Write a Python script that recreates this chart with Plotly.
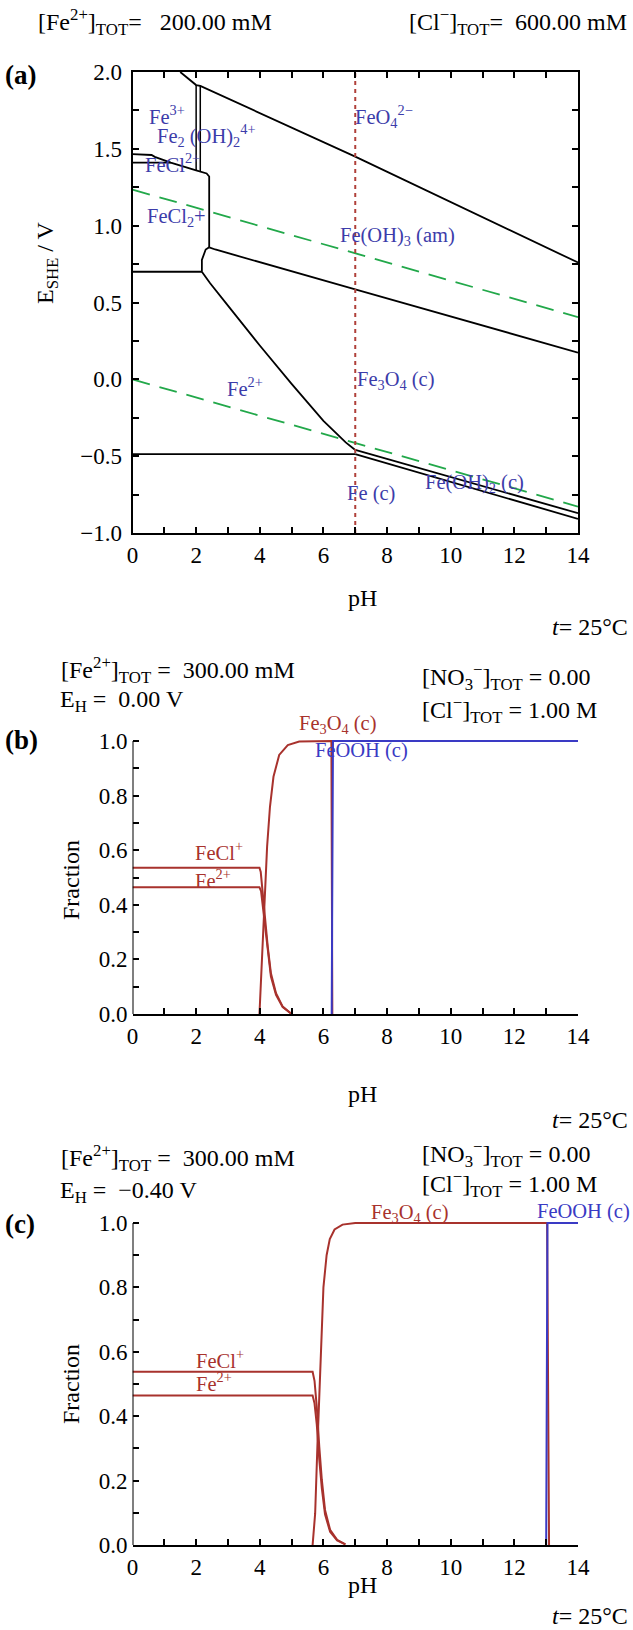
import plotly.graph_objects as go

W, H = 633, 1630

# ---------------- panel (a): Pourbaix diagram data (pH, E / V) ----------------
feo4_ph = [1.5, 2.0, 2.13, 7.0, 14.0]
feo4_e = [2.0, 1.915, 1.91, 1.449, 0.76]
v1_ph = [2.0, 2.0]
v1_e = [1.915, 1.36]
v2_ph = [2.13, 2.13]
v2_e = [1.91, 1.351]
a_ph = [0.0, 0.6, 0.7, 1.2, 2.0, 2.13, 2.33, 2.41, 2.41]
a_e = [1.466, 1.46, 1.448, 1.41, 1.36, 1.351, 1.34, 1.32, 0.859]
b_ph = [0.0, 1.2]
b_e = [1.41, 1.41]
feoh3_ph = [2.41, 2.6, 7.0, 14.0]
feoh3_e = [0.859, 0.845, 0.586, 0.174]
link_ph = [2.41, 2.3, 2.18, 2.18]
link_e = [0.859, 0.845, 0.777, 0.70]
fe23_ph = [0.0, 2.18]
fe23_e = [0.70, 0.70]
fe2m_ph = [2.18, 2.44, 3.0, 4.0, 5.0, 6.0, 6.7, 7.0]
fe2m_e = [0.70, 0.625, 0.48, 0.22, -0.03, -0.27, -0.41, -0.46]
fe0_ph = [0.0, 7.0]
fe0_e = [-0.487, -0.487]
mag_ph = [7.0, 14.0]
mag_e = [-0.459, -0.871]
feoh2_ph = [7.0, 14.0]
feoh2_e = [-0.487, -0.908]
o2_ph = [0.0, 14.0]
o2_e = [1.235, 0.405]
h2_ph = [0.0, 14.0]
h2_e = [0.0, -0.828]
ph7_ph = [7.0, 7.0]
ph7_e = [-1.0, 2.0]

# ---------------- panel (b): fractions, E_H = 0.00 V ----------------
b_fecl_ph = [0.0, 3.99, 4.03, 4.09, 4.15, 4.25, 4.35, 4.51, 4.72, 4.98]
b_fecl_f = [0.536, 0.536, 0.52, 0.442, 0.369, 0.247, 0.149, 0.076, 0.027, 0.002]
b_fe2_ph = [0.0, 3.99, 4.04, 4.09, 4.15, 4.25, 4.35, 4.51, 4.72, 4.98]
b_fe2_f = [0.464, 0.464, 0.45, 0.40, 0.335, 0.226, 0.137, 0.07, 0.025, 0.002]
b_mag_ph = [3.99, 4.06, 4.15, 4.23, 4.32, 4.43, 4.61, 4.88, 5.24, 6.25, 6.28]
b_mag_f = [0.0, 0.186, 0.43, 0.613, 0.759, 0.869, 0.949, 0.985, 0.998, 1.0, 0.0]
b_feooh_ph = [6.26, 6.30, 14.0]
b_feooh_f = [0.0, 1.0, 1.0]

# ---------------- panel (c): fractions, E_H = -0.40 V ----------------
c_fecl_ph = [0.0, 5.66, 5.72, 5.79, 5.87, 5.95, 6.05, 6.21, 6.43, 6.69]
c_fecl_f = [0.538, 0.538, 0.51, 0.43, 0.305, 0.202, 0.109, 0.047, 0.016, 0.002]
c_fe2_ph = [0.0, 5.66, 5.72, 5.79, 5.87, 5.95, 6.05, 6.21, 6.43, 6.69]
c_fe2_f = [0.464, 0.464, 0.44, 0.375, 0.265, 0.176, 0.095, 0.041, 0.014, 0.002]
c_mag_ph = [5.66, 5.74, 5.81, 5.90, 6.0, 6.1, 6.2, 6.35, 6.6, 7.0, 13.03, 13.09]
c_mag_f = [0.0, 0.098, 0.305, 0.564, 0.80, 0.90, 0.95, 0.98, 0.995, 1.0, 1.0, 0.0]
c_feooh_ph = [13.0, 13.04, 14.0]
c_feooh_f = [0.0, 1.0, 1.0]

# tick labels
ph_ticks = [0, 2, 4, 6, 8, 10, 12, 14]
frac_ticks = [0, 0.2, 0.4, 0.6, 0.8, 1.0]

FONT = "Liberation Serif"
BLACK = "black"
BLUE_T = "#3c3caa"
RED = "#a8322d"
BLUE = "#3a3ac4"
GREEN = "#22a84a"
DOTRED = "#b0403a"

# plot-area geometry in page pixels
XL, XR = 132.5, 578
PAN = {
    "a": dict(top=72, bot=533, lo=-1.0, hi=2.0),
    "b": dict(top=741, bot=1014, lo=0.0, hi=1.0),
    "c": dict(top=1223, bot=1545, lo=0.0, hi=1.0),
}


def px(x):
    return x / W


def py(y):
    return 1 - y / H


fig = go.Figure()


def line(xs, ys, ax, color=BLACK, width=1.8, dash="solid"):
    fig.add_trace(go.Scatter(x=xs, y=ys, mode="lines", xaxis=ax[0], yaxis=ax[1],
                             line=dict(color=color, width=width, dash=dash),
                             showlegend=False, hoverinfo="skip"))


A = ("x", "y")
B = ("x2", "y2")
C = ("x3", "y3")

# panel a
line(o2_ph, o2_e, A, GREEN, 1.8, "18px,10px")
line(h2_ph, h2_e, A, GREEN, 1.8, "18px,10px")
for xs, ys in [(feo4_ph, feo4_e), (a_ph, a_e), (b_ph, b_e),
               (feoh3_ph, feoh3_e), (link_ph, link_e), (fe23_ph, fe23_e), (fe2m_ph, fe2m_e),
               (fe0_ph, fe0_e), (mag_ph, mag_e), (feoh2_ph, feoh2_e)]:
    line(xs, ys, A)
line(v1_ph, v1_e, A, width=1.5)
line(v2_ph, v2_e, A, width=1.5)
line(ph7_ph, ph7_e, A, DOTRED, 2, "4px,4px")

# panel b
line(b_fecl_ph, b_fecl_f, B, RED, 2)
line(b_fe2_ph, b_fe2_f, B, RED, 2)
line(b_mag_ph, b_mag_f, B, RED, 2)
line(b_feooh_ph, b_feooh_f, B, BLUE, 2)

# panel c
line(c_fecl_ph, c_fecl_f, C, RED, 2)
line(c_fe2_ph, c_fe2_f, C, RED, 2)
line(c_mag_ph, c_mag_f, C, RED, 2)
line(c_feooh_ph, c_feooh_f, C, BLUE, 2)

TICKFONT = dict(family=FONT, size=23, color=BLACK)


def xaxis_cfg(mirror):
    return dict(domain=[px(XL), px(XR)], range=[0, 14], tickvals=ph_ticks, ticks="inside", ticklen=6,
                tickwidth=1.5, tickcolor=BLACK,
                minor=dict(dtick=1, tick0=0, ticks="inside", ticklen=6, tickwidth=1.5, tickcolor=BLACK),
                showline=True, linewidth=2, linecolor=BLACK, mirror=mirror,
                showgrid=False, zeroline=False, tickfont=TICKFONT, fixedrange=True,
                automargin=False)


def frac_axis(p, anchor):
    top_px = p["bot"] - (p["bot"] - p["top"]) * 1.03
    return dict(domain=[py(p["bot"]), py(top_px)], range=[0, 1.03], tickvals=frac_ticks,
                tickformat=".1f", ticks="inside", ticklen=6, tickwidth=1.5, tickcolor=BLACK,
                minor=dict(dtick=0.1, tick0=0, ticks="inside", ticklen=6, tickwidth=1.5, tickcolor=BLACK),
                showline=False, showgrid=False, zeroline=False, tickfont=TICKFONT, anchor=anchor,
                fixedrange=True, automargin=False, ticklabelstandoff=4)


fig.update_layout(
    template="none",
    width=W, height=H, margin=dict(l=0, r=0, t=0, b=0, pad=0), autosize=False,
    paper_bgcolor="white", plot_bgcolor="white",
    font=dict(family=FONT, size=23, color=BLACK),
    xaxis=xaxis_cfg("ticks"),
    yaxis=dict(domain=[py(PAN["a"]["bot"]), py(PAN["a"]["top"])], range=[-1, 2], dtick=0.5, tick0=0,
               tickformat=".1f", ticks="inside", ticklen=6, tickwidth=1.5, tickcolor=BLACK,
               minor=dict(dtick=0.25, tick0=0, ticks="inside", ticklen=6, tickwidth=1.5, tickcolor=BLACK),
               showline=True, linewidth=2, linecolor=BLACK, mirror="ticks",
               showgrid=False, zeroline=False, tickfont=TICKFONT, fixedrange=True,
               automargin=False, ticklabelstandoff=4),
    xaxis2=dict(xaxis_cfg(False), anchor="y2"),
    yaxis2=frac_axis(PAN["b"], "x2"),
    xaxis3=dict(xaxis_cfg(False), anchor="y3"),
    yaxis3=frac_axis(PAN["c"], "x3"),
)

# left axis lines of panels b and c, ending at fraction 1.0
for xr, yr in [("x2", "y2"), ("x3", "y3")]:
    fig.add_shape(type="line", xref=xr, yref=yr, x0=0, x1=0, y0=0, y1=1,
                  line=dict(color=BLACK, width=2))

ann = []


def note(text, x, y, xanchor="left", size=24, color=BLACK, angle=0):
    ann.append(dict(text=text, x=px(x), y=py(y), xref="paper", yref="paper", xanchor=xanchor,
                    yanchor="middle", showarrow=False, textangle=angle,
                    font=dict(family=FONT, size=size, color=color)))


def label(text, xv, yv, pan, color, size=20.5):
    p = PAN[pan]
    xpix = XL + (XR - XL) * xv / 14.0
    ypix = p["bot"] - (p["bot"] - p["top"]) * (yv - p["lo"]) / (p["hi"] - p["lo"])
    note(text, xpix, ypix, size=size, color=color)


# panel a texts
note("[Fe<sup>2+</sup>]<sub>TOT</sub>=&nbsp;&nbsp; 200.00 mM", 36, 22)
note("[Cl<sup>−</sup>]<sub>TOT</sub>=&nbsp; 600.00 mM", 407, 22)
note("<b>(a)</b>", 3, 75, size=27)
note("E<sub>SHE</sub> / V", 47, 262, xanchor="center", angle=-90)
note("pH", 362, 598, xanchor="center")
note("<i>t</i>= 25°C", 630, 627, xanchor="right")

label("Fe<sup>3+</sup>", 0.45, 1.72, "a", BLUE_T)
label("Fe<sub>2</sub> (OH)<sub>2</sub><sup>4+</sup>", 0.71, 1.59, "a", BLUE_T)
label("FeCl<sup>2+</sup>", 0.34, 1.41, "a", BLUE_T)
label("FeCl<sub>2</sub>+", 0.4, 1.05, "a", BLUE_T)
label("FeO<sub>4</sub><sup>2−</sup>", 6.93, 1.71, "a", BLUE_T)
label("Fe(OH)<sub>3</sub> (am)", 6.46, 0.93, "a", BLUE_T)
label("Fe<sup>2+</sup>", 2.91, -0.05, "a", BLUE_T)
label("Fe<sub>3</sub>O<sub>4</sub> (c)", 7.0, -0.01, "a", BLUE_T)
label("Fe (c)", 6.68, -0.745, "a", BLUE_T)
label("Fe(OH)<sub>2</sub> (c)", 9.13, -0.68, "a", BLUE_T)

# panel b texts
note("[Fe<sup>2+</sup>]<sub>TOT</sub> =&nbsp; 300.00 mM", 59, 670)
note("E<sub>H</sub> =&nbsp; 0.00 V", 58, 701)
note("[NO<sub>3</sub><sup>−</sup>]<sub>TOT</sub> = 0.00", 420, 677)
note("[Cl<sup>−</sup>]<sub>TOT</sub> = 1.00 M", 420, 710)
note("<b>(b)</b>", 3, 740, size=27)
note("Fraction", 71, 880, xanchor="center", angle=-90)
note("pH", 362, 1094, xanchor="center")
note("<i>t</i>= 25°C", 630, 1120, xanchor="right")
label("FeCl<sup>+</sup>", 1.91, 0.597, "b", RED)
label("Fe<sup>2+</sup>", 1.91, 0.494, "b", RED)
label("Fe<sub>3</sub>O<sub>4</sub> (c)", 5.17, 1.062, "b", RED)
label("FeOOH (c)", 5.68, 0.967, "b", BLUE)

# panel c texts
note("[Fe<sup>2+</sup>]<sub>TOT</sub> =&nbsp; 300.00 mM", 59, 1158)
note("E<sub>H</sub> =&nbsp; −0.40 V", 58, 1192)
note("[NO<sub>3</sub><sup>−</sup>]<sub>TOT</sub> = 0.00", 420, 1154)
note("[Cl<sup>−</sup>]<sub>TOT</sub> = 1.00 M", 420, 1184)
note("<b>(c)</b>", 3, 1224, size=27)
note("Fraction", 71, 1384, xanchor="center", angle=-90)
note("pH", 362, 1585, xanchor="center")
note("<i>t</i>= 25°C", 630, 1616, xanchor="right")
label("FeCl<sup>+</sup>", 1.92, 0.578, "c", RED)
label("Fe<sup>2+</sup>", 1.92, 0.506, "c", RED)
label("Fe<sub>3</sub>O<sub>4</sub> (c)", 7.42, 1.031, "c", RED)
label("FeOOH (c)", 12.66, 1.037, "c", BLUE)

fig.update_layout(annotations=ann)
fig.write_html("out.html", config={"displayModeBar": False},
               post_script="document.body.style.margin='0px';document.body.style.overflow='hidden';")
